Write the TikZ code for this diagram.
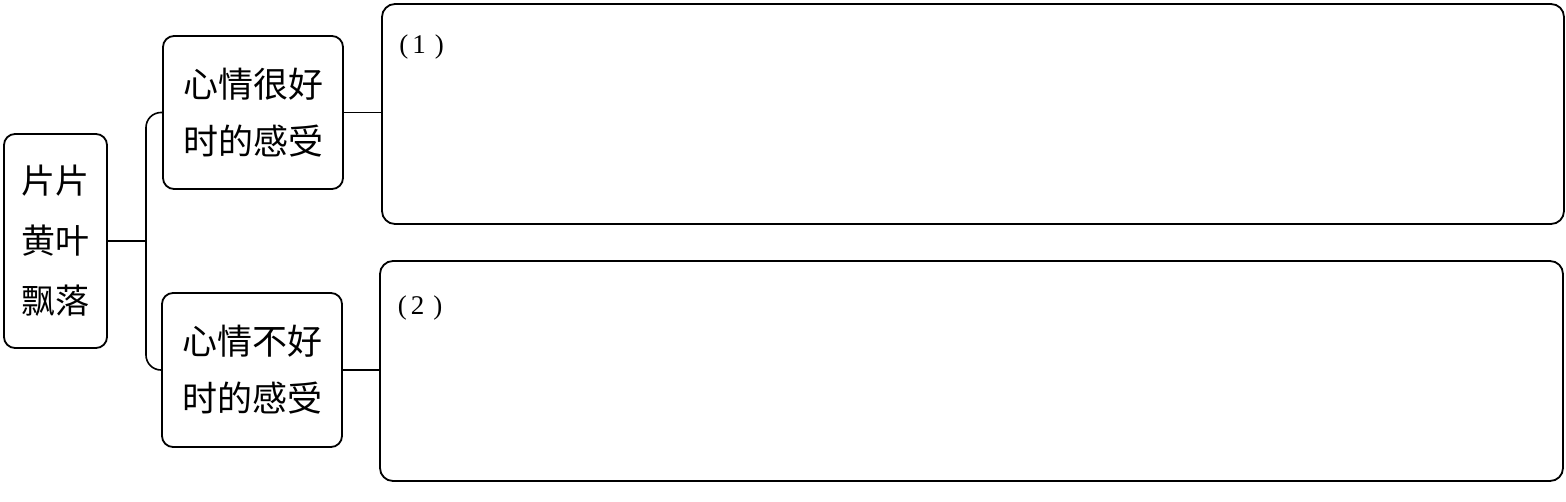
\documentclass[tikz,border=0pt]{standalone}
\usepackage{fontspec}
\newfontfamily\cjk{Noto Sans CJK SC}
\newfontfamily\serifnum{Liberation Serif}
\begin{document}
\begin{tikzpicture}[x=1pt,y=-1pt,
  box/.style={draw=black, line width=1.8pt, rounded corners=11pt, inner sep=0pt, align=center},
  conn/.style={draw=black, line width=1.6pt},
  lbl/.style={inner sep=0pt, font=\serifnum\fontsize{27}{30}\selectfont}]
\useasboundingbox (0,0) rectangle (1566,501);
\fill[white] (0,0) rectangle (1566,501);
\node[box, minimum width=103pt, minimum height=214pt, font=\cjk\fontsize{34}{60}\selectfont] (left) at (55.5,241) {片片\\黄叶\\飘落};
\node[box, minimum width=180pt, minimum height=153pt, font=\cjk\fontsize{35}{57}\selectfont] (tm) at (253,112.5) {心情很好\\时的感受};
\node[box, minimum width=180pt, minimum height=154pt, font=\cjk\fontsize{35}{57}\selectfont] (bm) at (252,370) {心情不好\\时的感受};
\node[box, rounded corners=13pt, minimum width=1182pt, minimum height=220pt] (tb) at (973,114) {};
\node[box, rounded corners=13pt, minimum width=1183pt, minimum height=220pt] (bb) at (971.5,371) {};
\node[lbl] (l1) at ([shift={(40.5,44)}]tb.north west) {(\hspace{4pt}1\hspace{9pt})};
\node[lbl] (l2) at ([shift={(41,48)}]bb.north west) {(\hspace{4pt}2\hspace{9pt})};
\coordinate (j) at (146,241);
\draw[conn, rounded corners=15pt] (tm.west) -| (j) |- (bm.west);
\draw[conn] (left.east) -- (j);
\draw[conn] (tm.east) -- (tb.west |- tm.east);
\draw[conn] (bm.east) -- (bb.west |- bm.east);
\end{tikzpicture}
\end{document}
